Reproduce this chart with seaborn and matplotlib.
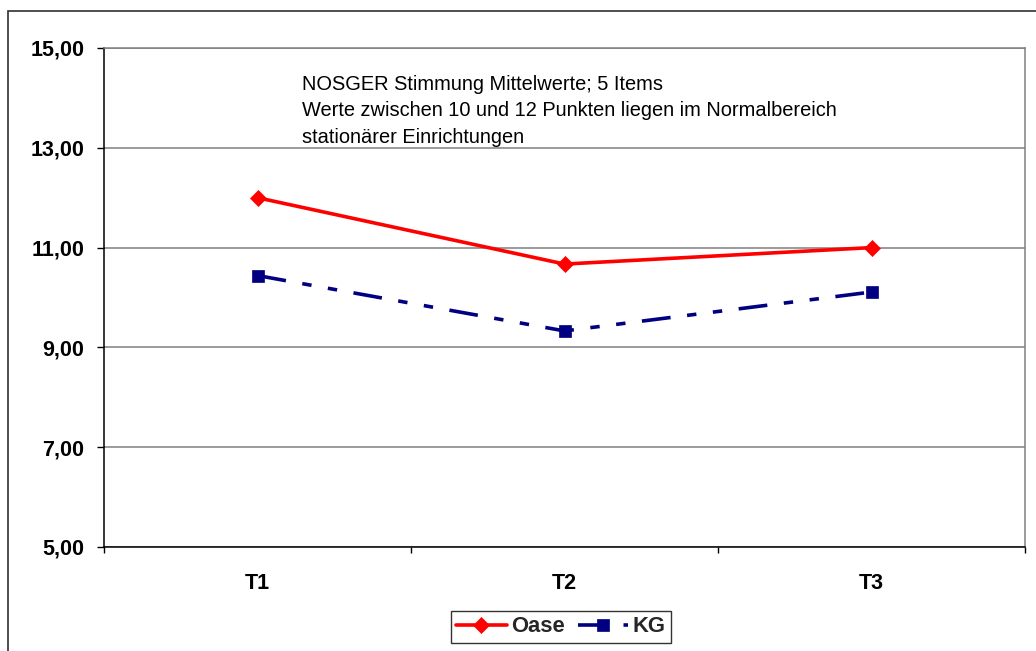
import matplotlib
matplotlib.use("Agg")
import matplotlib.pyplot as plt
from matplotlib.patches import Rectangle
from matplotlib.ticker import FixedLocator
import pandas as pd
import seaborn as sns

# Measurement points and mean mood scores (NOSGER, 5 items)
zeitpunkte = ["T1", "T2", "T3"]
oase = [12.00, 10.67, 11.00]
kg = [10.44, 9.33, 10.11]
gruppen = ["Oase", "KG"]
y_ticks = [5, 7, 9, 11, 13, 15]
y_labels = ["5,00", "7,00", "9,00", "11,00", "13,00", "15,00"]
hinweis = ("NOSGER Stimmung Mittelwerte; 5 Items\n"
           "Werte zwischen 10 und 12 Punkten liegen im Normalbereich\n"
           "stationärer Einrichtungen")

df = pd.DataFrame({
    "Zeitpunkt": zeitpunkte * 2,
    "Wert": oase + kg,
    "Gruppe": [gruppen[0]] * 3 + [gruppen[1]] * 3,
})

sns.set_theme(style="white")
plt.rcParams["font.family"] = ["Liberation Sans", "DejaVu Sans"]

W, H = 1036, 651
fig = plt.figure(figsize=(W / 100, H / 100), dpi=100)
ax = fig.add_axes([104 / W, 1 - 547 / H, (1025 - 104) / W, (547 - 48) / H])

farben = {"Oase": "#FF0000", "KG": "#000080"}
kg_dashes = (8, 4.6, 2.6, 4.6, 2.6, 4.6)
sns.lineplot(
    data=df, x="Zeitpunkt", y="Wert", hue="Gruppe", style="Gruppe",
    hue_order=gruppen, style_order=gruppen, palette=farben,
    markers={"Oase": "D", "KG": "s"},
    dashes={"Oase": "", "KG": kg_dashes},
    linewidth=2.6, markersize=9, legend=False, ax=ax, sort=False,
)
for line, g in zip(ax.lines, gruppen):
    line.set_markeredgecolor(farben[g])
    line.set_markerfacecolor(farben[g])
    line.set_markeredgewidth(0.5)
    line.set_dash_capstyle("butt")
ax.lines[0].set_markersize(7.8)
ax.lines[1].set_linestyle((0, kg_dashes))

# axes limits and ticks
ax.set_ylim(5, 15)
ax.set_xlim(-0.5, 2.5)
ax.yaxis.set_major_locator(FixedLocator(y_ticks))
ax.set_yticklabels(y_labels)
ax.xaxis.set_major_locator(FixedLocator([-0.5, 0.5, 1.5, 2.5]))
ax.xaxis.set_minor_locator(FixedLocator([0, 1, 2]))
ax.set_xticklabels([], minor=False)
ax.set_xticklabels(zeitpunkte, minor=True)
ax.tick_params(axis="x", which="major", length=4.5, width=1, color="black",
               direction="out", bottom=True)
ax.tick_params(axis="x", which="minor", length=0, pad=19,
               labelsize=15.5, labelcolor="black")
ax.tick_params(axis="y", which="major", length=5, width=1, color="black",
               direction="out", left=True, pad=9, labelsize=15.5,
               labelcolor="black")
for lbl in ax.get_yticklabels() + ax.get_xticklabels(minor=True):
    lbl.set_fontweight("bold")

ax.set_xlabel("")
ax.set_ylabel("")
ax.grid(False)
ax.yaxis.grid(True, color="#808080", linewidth=1.1)
ax.set_axisbelow(True)
ax.spines["left"].set_color("black")
ax.spines["bottom"].set_color("black")
ax.spines["top"].set_color("#808080")
ax.spines["right"].set_color("#808080")
for s in ax.spines.values():
    s.set_linewidth(1.1)
    s.set_visible(True)

# annotation inside the plot area
fig.text(302 / W, 1 - 75 / H, hinweis, ha="left", va="top",
         fontsize=14.4, color="black", linespacing=1.5)

# legend below the axes
leg = fig.legend(
    handles=ax.lines[:2], labels=gruppen, ncol=2,
    loc="center", bbox_to_anchor=(561 / W, 1 - 627 / H),
    prop={"weight": "bold", "size": 15.8},
    frameon=True, fancybox=False, edgecolor="black",
    handlelength=2.3, handletextpad=0.2, columnspacing=0.6,
    borderpad=0.25, borderaxespad=0,
)
leg.get_frame().set_linewidth(1.0)

# outer chart border
fig.patches.append(Rectangle((8 / W, -0.2), 1.2, 1 - 11 / H + 0.2,
                             transform=fig.transFigure, fill=False,
                             edgecolor="#303030", linewidth=1.2,
                             clip_on=False))

fig.savefig("out.png", dpi=100)
